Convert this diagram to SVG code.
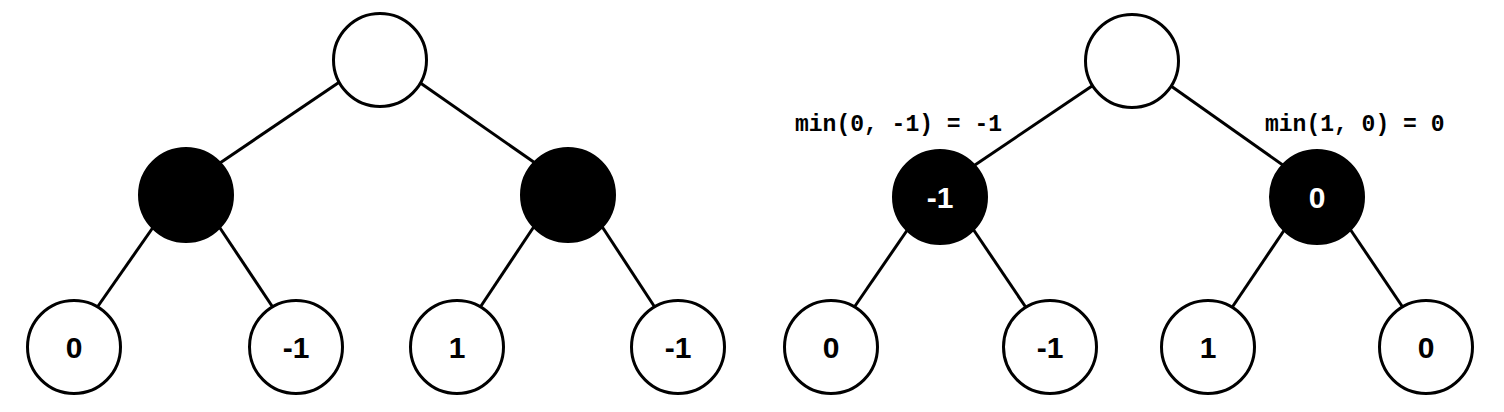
<svg xmlns="http://www.w3.org/2000/svg" width="1504" height="412" viewBox="0 0 1504 412">
<style>
.edge{stroke:#000;stroke-width:3;fill:none}
.w{fill:#fff;stroke:#000;stroke-width:3}
.b{fill:#000;stroke:#000;stroke-width:3}
.t{font-family:"Liberation Sans",Arial,sans-serif;font-weight:bold;font-size:30px;text-anchor:middle}
.tw{fill:#fff}
.m{font-family:"Liberation Mono","Courier New",monospace;font-weight:bold;font-size:23px;fill:#000}
</style>
<rect width="1504" height="412" fill="#fff"/>
<g id="connectors">
<line class="edge" x1="341" y1="81" x2="217" y2="165"/>
<line class="edge" x1="419" y1="82" x2="538" y2="165"/>
<line class="edge" x1="154" y1="226" x2="96" y2="309"/>
<line class="edge" x1="218" y1="225" x2="274" y2="309"/>
<line class="edge" x1="535" y1="225" x2="479" y2="309"/>
<line class="edge" x1="601" y1="225" x2="656" y2="309"/>
<line class="edge" x1="1092" y1="86" x2="972" y2="167"/>
<line class="edge" x1="1171" y1="86" x2="1287" y2="168"/>
<line class="edge" x1="908" y1="229" x2="853" y2="309"/>
<line class="edge" x1="973" y1="229" x2="1027" y2="309"/>
<line class="edge" x1="1285" y1="229" x2="1231" y2="309"/>
<line class="edge" x1="1350" y1="229" x2="1404" y2="309"/>
</g>
<g id="a-root"><circle class="w" cx="380" cy="60" r="46.5"/></g>
<g id="a-l"><circle class="b" cx="186" cy="195" r="46.5"/></g>
<g id="a-r"><circle class="b" cx="568" cy="195" r="46.5"/></g>
<g id="a-ll"><circle class="w" cx="74" cy="347" r="46.5"/><text class="t" x="74" y="358">0</text></g>
<g id="a-lr"><circle class="w" cx="296" cy="347" r="46.5"/><text class="t" x="296" y="358">-1</text></g>
<g id="a-rl"><circle class="w" cx="457" cy="347" r="46.5"/><text class="t" x="457" y="358">1</text></g>
<g id="a-rr"><circle class="w" cx="678" cy="347" r="46.5"/><text class="t" x="678" y="358">-1</text></g>
<g id="b-root"><circle class="w" cx="1132" cy="61" r="46.5"/></g>
<g id="b-l"><circle class="b" cx="940" cy="197" r="46.5"/><text class="t tw" x="940" y="208">-1</text></g>
<g id="b-r"><circle class="b" cx="1317" cy="197" r="46.5"/><text class="t tw" x="1317" y="208">0</text></g>
<g id="b-ll"><circle class="w" cx="831" cy="347" r="46.5"/><text class="t" x="831" y="358">0</text></g>
<g id="b-lr"><circle class="w" cx="1050" cy="347" r="46.5"/><text class="t" x="1050" y="358">-1</text></g>
<g id="b-rl"><circle class="w" cx="1208" cy="347" r="46.5"/><text class="t" x="1208" y="358">1</text></g>
<g id="b-rr"><circle class="w" cx="1426" cy="347" r="46.5"/><text class="t" x="1426" y="358">0</text></g>
<g id="labels">
<text class="m" x="795" y="131" xml:space="preserve">min(0, -1) = -1</text>
<text class="m" x="1265" y="131" xml:space="preserve">min(1, 0) = 0</text>
</g>
</svg>
